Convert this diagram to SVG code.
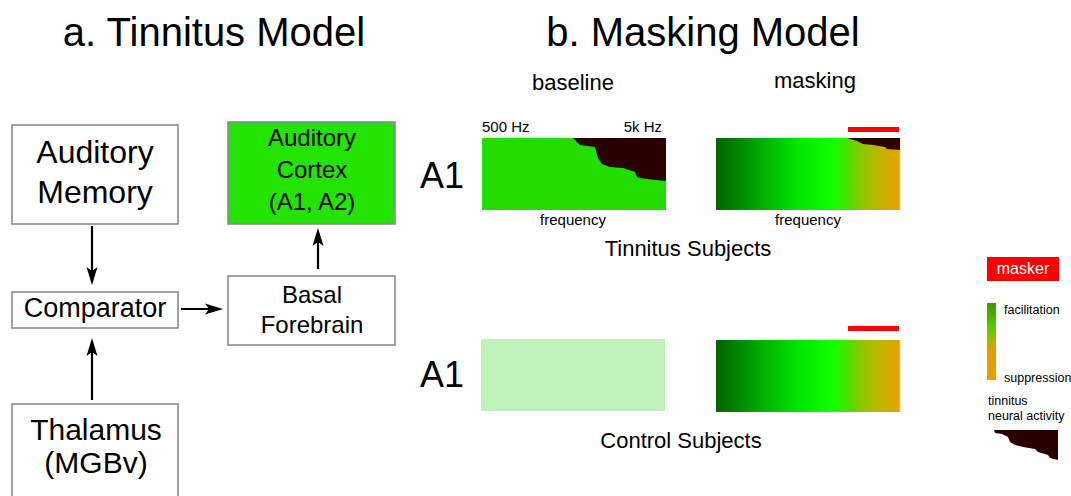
<svg xmlns="http://www.w3.org/2000/svg" width="1071" height="496" viewBox="0 0 1071 496">
<style>
text{font-family:"Liberation Sans",Arial,sans-serif;fill:#000}
.box{fill:#fff;stroke:#8a8a8a;stroke-width:1.6}
.conn{stroke:#000;stroke-width:2.2;fill:none}
.dark{fill:#2b0000}
.red{fill:#ff0000}
</style>
<defs>
<marker id="ah" markerUnits="userSpaceOnUse" markerWidth="22" markerHeight="14" viewBox="0 -7 20 14" refX="14" refY="0" orient="auto">
<path d="M0,-5.5 L18,0 L0,5.5 L4,0 z" fill="#000"/>
</marker>
<linearGradient id="mask" x1="0" y1="0" x2="1" y2="0">
<stop offset="0" stop-color="#006400"/>
<stop offset="0.17" stop-color="#009500"/>
<stop offset="0.45" stop-color="#00e800"/>
<stop offset="0.64" stop-color="#12ff00"/>
<stop offset="0.73" stop-color="#5ad800"/>
<stop offset="0.82" stop-color="#a0c000"/>
<stop offset="0.91" stop-color="#c8b000"/>
<stop offset="1" stop-color="#e5a000"/>
</linearGradient>
<linearGradient id="legend" x1="0" y1="0" x2="0" y2="1">
<stop offset="0" stop-color="#3f9400"/>
<stop offset="0.35" stop-color="#66cc00"/>
<stop offset="0.6" stop-color="#e0a000"/>
<stop offset="1" stop-color="#e8a000"/>
</linearGradient>
</defs>

<text x="214" y="46" font-size="40" text-anchor="middle">a. Tinnitus Model</text>
<text x="703" y="46" font-size="40" text-anchor="middle">b. Masking Model</text>

<g id="auditory-memory">
<rect class="box" x="12" y="125" width="166" height="99"/>
<text x="95" y="163" font-size="32" text-anchor="middle">Auditory</text>
<text x="95" y="203" font-size="32" text-anchor="middle">Memory</text>
</g>
<g id="auditory-cortex">
<rect x="228" y="122" width="167" height="102" fill="#22e400" stroke="#8a8a8a" stroke-width="1.6"/>
<text x="312" y="146" font-size="24" text-anchor="middle">Auditory</text>
<text x="312" y="178" font-size="24" text-anchor="middle">Cortex</text>
<text x="312" y="210" font-size="24" text-anchor="middle">(A1, A2)</text>
</g>
<g id="comparator">
<rect class="box" x="12" y="292" width="166" height="36"/>
<text x="95" y="317" font-size="27" text-anchor="middle">Comparator</text>
</g>
<g id="basal-forebrain">
<rect class="box" x="228" y="276" width="167" height="69"/>
<text x="312" y="303" font-size="24" text-anchor="middle">Basal</text>
<text x="312" y="333" font-size="24" text-anchor="middle">Forebrain</text>
</g>
<g id="thalamus">
<rect class="box" x="12" y="404" width="166" height="100"/>
<text x="96" y="440" font-size="30" text-anchor="middle">Thalamus</text>
<text x="96" y="473" font-size="30" text-anchor="middle">(MGBv)</text>
</g>

<g id="connectors">
<line class="conn" x1="92" y1="226" x2="92" y2="281" marker-end="url(#ah)"/>
<line class="conn" x1="92" y1="400" x2="92" y2="342" marker-end="url(#ah)"/>
<line class="conn" x1="181" y1="309" x2="219" y2="309" marker-end="url(#ah)"/>
<line class="conn" x1="318" y1="269" x2="318" y2="232" marker-end="url(#ah)"/>
</g>

<g id="masking-model">
<text x="573" y="90" font-size="22" text-anchor="middle">baseline</text>
<text x="815" y="88" font-size="22" text-anchor="middle">masking</text>
<text x="442" y="188" font-size="36" text-anchor="middle">A1</text>
<text x="442" y="387" font-size="36" text-anchor="middle">A1</text>

<text x="482" y="132" font-size="15">500 Hz</text>
<text x="662" y="132" font-size="15" text-anchor="end">5k Hz</text>
<rect x="482" y="138" width="184" height="72" fill="#24dd00"/>
<path class="dark" d="M573,138 L666,138 L666,181 L655,180 L640,178 L637,177 L635,172 L623,168 L610,167 L602,164 L598,158 L595,147 L580,145 z"/>
<text x="573" y="225" font-size="15" text-anchor="middle">frequency</text>

<rect class="red" x="848" y="127" width="51" height="5"/>
<rect x="716" y="138" width="184" height="72" fill="url(#mask)"/>
<line x1="900" y1="138" x2="900" y2="210" stroke="#f5cc80" stroke-width="1"/>
<path class="dark" d="M847,138 L900,138 L900,150 L887,149 L885,147 L873,145 L863,144 L857,141 z"/>
<text x="808" y="225" font-size="15" text-anchor="middle">frequency</text>
<text x="688" y="256" font-size="22" text-anchor="middle">Tinnitus Subjects</text>

<rect x="481" y="339" width="184" height="72" fill="#bdf1b8"/>
<rect class="red" x="848" y="326" width="51" height="5"/>
<rect x="716" y="340" width="184" height="72" fill="url(#mask)"/>
<line x1="900" y1="340" x2="900" y2="412" stroke="#f5cc80" stroke-width="1"/>
<text x="681" y="448" font-size="22" text-anchor="middle">Control Subjects</text>
</g>

<g id="legend-group">
<rect class="red" x="987" y="257" width="72" height="24"/>
<text x="1023" y="274" font-size="16" text-anchor="middle" style="fill:#fff">masker</text>
<rect x="987" y="303" width="9" height="77" fill="url(#legend)"/>
<text x="1004" y="314" font-size="12.5">facilitation</text>
<text x="1004" y="382" font-size="12.5">suppression</text>
<text x="988" y="405" font-size="12.5">tinnitus</text>
<text x="988" y="420" font-size="12.5">neural activity</text>
<path class="dark" d="M994,430 L1058,430 L1058,460 L1050,458 L1048,455 L1038,452 L1035,449 L1023,447 L1015,445 L1010,442 L1008,437 L1002,434 L995,433 z"/>
</g>
</svg>
